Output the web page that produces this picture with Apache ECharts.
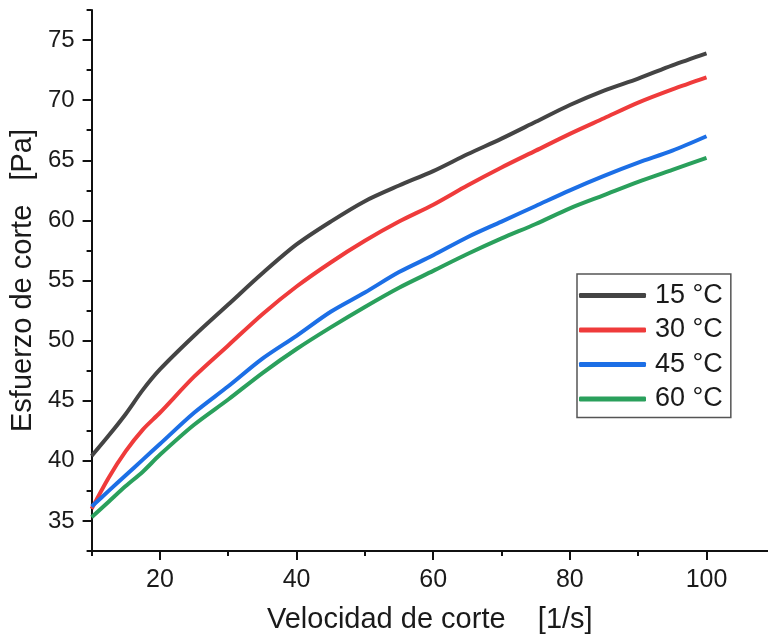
<!DOCTYPE html>
<html>
<head>
<meta charset="utf-8">
<script src="https://cdn.jsdelivr.net/npm/echarts@6/dist/echarts.min.js"></script>
<style>html,body{margin:0;padding:0;background:#fff}#c{width:768px;height:641px}</style>
</head>
<body>
<div id="c"></div>
<script>
const shearRate = [10, 12.5, 15, 17.5, 20, 25, 30, 35, 40, 45, 50, 55, 60, 65, 70, 75, 80, 85, 90, 95, 100];
const s15 = [40.4, 42.1, 43.9, 45.9, 47.6, 50.4, 53.0, 55.6, 58.0, 59.9, 61.6, 62.9, 64.1, 65.5, 66.8, 68.2, 69.6, 70.8, 71.8, 72.9, 73.9];
const s30 = [36.0, 38.6, 40.8, 42.6, 44.0, 47.0, 49.6, 52.2, 54.5, 56.5, 58.3, 59.9, 61.3, 62.9, 64.4, 65.8, 67.2, 68.5, 69.8, 70.9, 71.9];
const s45 = [36.2, 37.5, 38.8, 40.1, 41.4, 44.0, 46.2, 48.5, 50.4, 52.4, 54.0, 55.7, 57.1, 58.6, 59.9, 61.2, 62.5, 63.7, 64.8, 65.8, 67.0];
const s60 = [35.3, 36.6, 37.9, 39.1, 40.5, 43.0, 45.1, 47.3, 49.3, 51.1, 52.8, 54.4, 55.8, 57.2, 58.5, 59.7, 61.0, 62.1, 63.2, 64.2, 65.2];
const seriesNames = ['15 °C', '30 °C', '45 °C', '60 °C'];
const xMajor = [20, 40, 60, 80, 100];
const xMinor = [10, 30, 50, 70, 90];
const yMajor = [35, 40, 45, 50, 55, 60, 65, 70, 75];
const yMinor = [32.5, 37.5, 42.5, 47.5, 52.5, 57.5, 62.5, 67.5, 72.5, 77.5];

const colors = ['#444444', '#ef3b3b', '#1c6fe6', '#2aa05c'];
const allSeries = [s15, s30, s45, s60];
const font = 'Liberation Sans, Arial, sans-serif';
const txt = '#1a1a1a';

const chart = echarts.init(document.getElementById('c'), null, {renderer: 'canvas'});
const grid = {left: 89, top: 10, right: 0, bottom: 90, containLabel: false};
const xBase = {type: 'value', min: 10, max: 109, gridIndex: 0, splitLine: {show: false}};
const yBase = {type: 'value', min: 32.5, max: 77.5, gridIndex: 0, splitLine: {show: false}};
chart.setOption({
  animation: false,
  grid: grid,
  xAxis: [
    Object.assign({}, xBase, {
      position: 'bottom',
      axisLine: {show: true, lineStyle: {color: '#111', width: 2}},
      axisTick: {show: true, length: 9, lineStyle: {color: '#111', width: 2}, customValues: xMajor},
      axisLabel: {show: true, customValues: xMajor, margin: 17, fontSize: 25, color: txt, fontFamily: font},
      name: 'Velocidad de corte    [1/s]', nameLocation: 'middle', nameGap: 54,
      nameTextStyle: {fontSize: 29, color: txt, fontFamily: font}
    }),
    Object.assign({}, xBase, {
      position: 'bottom',
      axisLine: {show: false},
      axisTick: {show: true, length: 5, lineStyle: {color: '#111', width: 2}, customValues: xMinor},
      axisLabel: {show: false}
    })
  ],
  yAxis: [
    Object.assign({}, yBase, {
      position: 'left',
      axisLine: {show: true, lineStyle: {color: '#111', width: 2}},
      axisTick: {show: true, length: 9, lineStyle: {color: '#111', width: 2}, customValues: yMajor},
      axisLabel: {show: true, customValues: yMajor, margin: 17, fontSize: 24, color: txt, fontFamily: font},
      name: 'Esfuerzo de corte   [Pa]', nameLocation: 'middle', nameGap: 50, nameRotate: 90,
      nameTextStyle: {fontSize: 29, color: txt, fontFamily: font}
    }),
    Object.assign({}, yBase, {
      position: 'left',
      axisLine: {show: false},
      axisTick: {show: true, length: 5, lineStyle: {color: '#111', width: 2}, customValues: yMinor},
      axisLabel: {show: false}
    })
  ],
  legend: {
    orient: 'vertical', left: 577, top: 274,
    data: seriesNames,
    icon: 'roundRect', itemWidth: 67, itemHeight: 5, itemGap: 7.5,
    padding: [8, 8, 5, 2],
    borderColor: '#555', borderWidth: 1.5,
    textStyle: {fontSize: 27, color: txt, fontFamily: font, lineHeight: 24, padding: [0, 0, 0, 4]}
  },
  series: allSeries.map((arr, i) => ({
    name: seriesNames[i], type: 'line', xAxisIndex: 0, yAxisIndex: 0,
    data: shearRate.map((x, j) => [x, arr[j]]),
    showSymbol: false, smooth: 0.3,
    lineStyle: {color: colors[i], width: 4},
    itemStyle: {color: colors[i]}
  }))
});
</script>
</body>
</html>
